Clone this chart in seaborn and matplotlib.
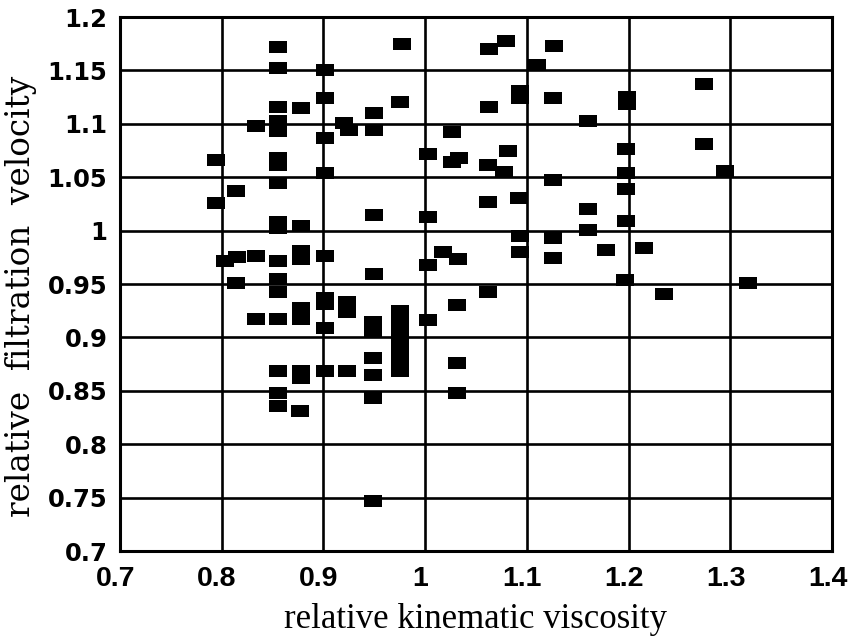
import matplotlib
matplotlib.use("Agg")
import matplotlib.pyplot as plt
import matplotlib.transforms as mtransforms
import seaborn as sns
import pandas as pd

# relative kinematic viscosity (x) and relative filtration velocity (y)
viscosity = [
    0.855, 0.855, 0.902, 0.977, 0.902, 0.855, 0.878, 0.975, 0.950, 0.834,
    0.855, 0.855, 0.920, 0.925, 0.950, 0.902, 0.794, 0.855, 0.855, 0.902,
    0.855, 1.003, 0.814, 0.794, 0.950, 0.855, 0.855, 0.878, 1.003, 0.803,
    0.815, 0.834, 0.855, 0.878, 0.878, 0.902, 1.003, 0.950, 0.814, 0.855,
    0.855, 0.902, 0.902, 0.834, 0.855, 0.878, 0.878, 0.902, 0.923, 0.923,
    0.949, 0.949, 0.975, 0.975, 0.975, 0.975, 0.975, 0.975, 0.975, 1.003,
    0.855, 0.878, 0.878, 0.902, 0.923, 0.949, 0.949, 0.855, 0.855, 0.877,
    0.949, 0.949,
    1.079, 1.063, 1.127, 1.110, 1.093, 1.093, 1.126, 1.063, 1.198, 1.198,
    1.274, 1.160, 1.026, 1.026, 1.033, 1.081, 1.062, 1.078, 1.197, 1.197,
    1.274, 1.295, 1.126, 1.197, 1.062, 1.092, 1.160, 1.160, 1.197, 1.093,
    1.093, 1.126, 1.126, 1.178, 1.215, 1.018, 1.032, 1.196, 1.317, 1.062,
    1.235, 1.031, 1.031, 1.031,
]
velocity = [
    1.172, 1.152, 1.150, 1.175, 1.124, 1.116, 1.115, 1.120, 1.110, 1.098,
    1.103, 1.093, 1.101, 1.094, 1.094, 1.087, 1.066, 1.068, 1.061, 1.054,
    1.045, 1.072, 1.037, 1.026, 1.015, 1.008, 1.002, 1.004, 1.013, 0.972,
    0.975, 0.976, 0.972, 0.981, 0.973, 0.976, 0.968, 0.959, 0.951, 0.955,
    0.943, 0.937, 0.931, 0.917, 0.917, 0.928, 0.917, 0.909, 0.933, 0.924,
    0.914, 0.905, 0.925, 0.916, 0.906, 0.897, 0.888, 0.878, 0.869, 0.916,
    0.869, 0.869, 0.862, 0.869, 0.869, 0.881, 0.865, 0.848, 0.836, 0.831,
    0.843, 0.747,
    1.178, 1.170, 1.173, 1.155, 1.131, 1.124, 1.124, 1.116, 1.125, 1.119,
    1.137, 1.103, 1.092, 1.064, 1.068, 1.075, 1.061, 1.055, 1.076, 1.054,
    1.081, 1.056, 1.047, 1.039, 1.027, 1.031, 1.020, 1.001, 1.009, 0.995,
    0.980, 0.993, 0.974, 0.982, 0.984, 0.980, 0.973, 0.954, 0.951, 0.943,
    0.941, 0.930, 0.876, 0.848,
]

x_ticks = [0.7, 0.8, 0.9, 1.0, 1.1, 1.2, 1.3, 1.4]
x_tick_labels = ["0.7", "0.8", "0.9", "1", "1.1", "1.2", "1.3", "1.4"]
y_ticks = [0.7, 0.75, 0.8, 0.85, 0.9, 0.95, 1.0, 1.05, 1.1, 1.15, 1.2]
y_tick_labels = ["0.7", "0.75", "0.8", "0.85", "0.9", "0.95", "1",
                 "1.05", "1.1", "1.15", "1.2"]

df = pd.DataFrame({"viscosity": viscosity, "velocity": velocity})

sns.set_theme(style="white")
plt.rcParams["font.family"] = ["Liberation Sans", "DejaVu Sans"]

fig = plt.figure(figsize=(8.5, 6.41), dpi=100)
ax = fig.add_axes([0.141, 0.1404, 0.838, 0.833])

# flat rectangular block marker
block = [(-1, -0.68), (1, -0.68), (1, 0.68), (-1, 0.68), (-1, -0.68)]

for xv in x_ticks:
    ax.axvline(xv, color="black", lw=1.9, zorder=1)
for yv in y_ticks:
    ax.axhline(yv, color="black", lw=1.9, zorder=1)

sns.scatterplot(data=df, x="viscosity", y="velocity", ax=ax,
                marker=block, s=150, color="black", edgecolor="black",
                linewidth=0, zorder=3)

ax.set_xlim(0.7, 1.4)
ax.set_ylim(0.7, 1.2)
ax.set_xticks(x_ticks)
ax.set_xticklabels(x_tick_labels)
ax.set_yticks(y_ticks)
ax.set_yticklabels(y_tick_labels)

for sp in ax.spines.values():
    sp.set_color("black")
    sp.set_linewidth(2.2)

ax.tick_params(axis="both", which="major", direction="out", length=7,
               width=1.6, color="black")
ax.tick_params(axis="x", pad=4)
ax.tick_params(axis="y", pad=2)

# nudge the x tick labels slightly left of their ticks
shift_left = mtransforms.ScaledTranslation(-4.5 / 100, 0, fig.dpi_scale_trans)
for lab in ax.get_xticklabels():
    lab.set_fontfamily(["Liberation Sans"])
    lab.set_fontweight("bold")
    lab.set_fontsize(20.5)
    lab.set_color("black")
    lab.set_transform(lab.get_transform() + shift_left)
for lab in ax.get_yticklabels():
    lab.set_fontfamily(["DejaVu Sans"])
    lab.set_fontweight("bold")
    lab.set_fontsize(17.5)
    lab.set_color("black")

ax.set_xlabel("relative kinematic viscosity", family="Liberation Serif",
              fontsize=25, color="black", labelpad=8)
ax.set_ylabel("relative  filtration  velocity", family="DejaVu Serif",
              fontsize=23.5, color="black")
ax.yaxis.set_label_coords(-0.117, 0.476)

fig.savefig("out.png", dpi=100, facecolor="white")
